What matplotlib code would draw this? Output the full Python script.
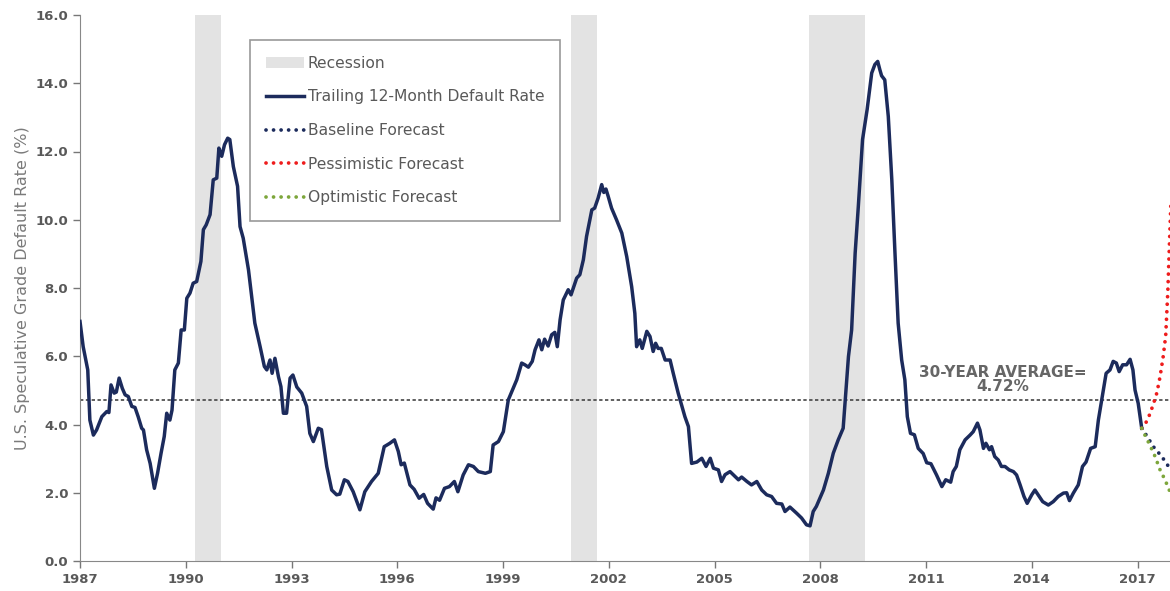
import matplotlib.pyplot as plt
import numpy as np

# trailing 12-month default rate (year, %)
years = [1987.00, 1987.09, 1987.22, 1987.28, 1987.38, 1987.47, 1987.62, 1987.76, 1987.82, 1987.88,
         1987.97, 1988.03, 1988.11, 1988.20, 1988.28, 1988.37, 1988.47, 1988.56, 1988.65, 1988.75,
         1988.80, 1988.89, 1988.99, 1989.11, 1989.20, 1989.30, 1989.39, 1989.46, 1989.55, 1989.61,
         1989.69, 1989.79, 1989.87, 1989.96, 1990.03, 1990.12, 1990.21, 1990.31, 1990.43, 1990.50,
         1990.58, 1990.69, 1990.78, 1990.88, 1990.94, 1991.02, 1991.10, 1991.19, 1991.25, 1991.35,
         1991.47, 1991.54, 1991.63, 1991.78, 1991.96, 1992.11, 1992.23, 1992.30, 1992.39, 1992.45,
         1992.53, 1992.63, 1992.70, 1992.77, 1992.86, 1992.96, 1993.04, 1993.15, 1993.29, 1993.43,
         1993.52, 1993.62, 1993.76, 1993.85, 1994.00, 1994.14, 1994.28, 1994.37, 1994.50, 1994.60,
         1994.75, 1994.94, 1995.08, 1995.27, 1995.46, 1995.63, 1995.79, 1995.92, 1996.03, 1996.11,
         1996.20, 1996.36, 1996.48, 1996.62, 1996.75, 1996.86, 1997.02, 1997.10, 1997.20, 1997.34,
         1997.48, 1997.62, 1997.72, 1997.87, 1998.02, 1998.16, 1998.30, 1998.50, 1998.64, 1998.72,
         1998.87, 1999.01, 1999.15, 1999.29, 1999.39, 1999.53, 1999.62, 1999.72, 1999.83, 1999.91,
         2000.02, 2000.10, 2000.18, 2000.28, 2000.38, 2000.47, 2000.54, 2000.62, 2000.71, 2000.85,
         2000.93, 2001.09, 2001.18, 2001.28, 2001.37, 2001.52, 2001.60, 2001.70, 2001.80, 2001.86,
         2001.92, 2001.98, 2002.08, 2002.22, 2002.37, 2002.51, 2002.65, 2002.74, 2002.79, 2002.88,
         2002.95, 2003.08, 2003.17, 2003.26, 2003.33, 2003.40, 2003.49, 2003.60, 2003.74, 2003.83,
         2003.97, 2004.16, 2004.26, 2004.35, 2004.50, 2004.64, 2004.76, 2004.88, 2004.97, 2005.11,
         2005.20, 2005.30, 2005.44, 2005.58, 2005.68, 2005.77, 2005.92, 2006.05, 2006.20, 2006.34,
         2006.48, 2006.62, 2006.76, 2006.91, 2007.00, 2007.14, 2007.33, 2007.47, 2007.61, 2007.71,
         2007.80, 2007.89, 2008.09, 2008.23, 2008.37, 2008.51, 2008.65, 2008.80, 2008.89, 2008.99,
         2009.08, 2009.20, 2009.33, 2009.46, 2009.55, 2009.63, 2009.69, 2009.74, 2009.83, 2009.93,
         2010.03, 2010.12, 2010.21, 2010.31, 2010.40, 2010.47, 2010.56, 2010.67, 2010.78, 2010.92,
         2011.02, 2011.14, 2011.30, 2011.45, 2011.56, 2011.70, 2011.77, 2011.86, 2011.96, 2012.11,
         2012.25, 2012.34, 2012.46, 2012.53, 2012.63, 2012.70, 2012.80, 2012.86, 2012.95, 2013.05,
         2013.14, 2013.24, 2013.36, 2013.48, 2013.57, 2013.67, 2013.78, 2013.87, 2014.00, 2014.09,
         2014.18, 2014.31, 2014.47, 2014.61, 2014.75, 2014.90, 2014.99, 2015.07, 2015.18, 2015.32,
         2015.44, 2015.54, 2015.67, 2015.80, 2015.89, 2016.01, 2016.11, 2016.22, 2016.31, 2016.40,
         2016.48, 2016.58, 2016.69, 2016.79, 2016.87, 2016.93, 2017.02, 2017.12]
rate = [7.02, 6.28, 5.60, 4.13, 3.69, 3.84, 4.23, 4.38, 4.35, 5.16,
        4.92, 4.95, 5.36, 5.06, 4.87, 4.82, 4.53, 4.50, 4.23, 3.89,
        3.84, 3.26, 2.86, 2.13, 2.57, 3.16, 3.65, 4.33, 4.13, 4.42,
        5.60, 5.80, 6.77, 6.77, 7.70, 7.85, 8.14, 8.19, 8.78, 9.71,
        9.85, 10.15, 11.17, 11.22, 12.10, 11.86, 12.20, 12.39, 12.35, 11.56,
        10.98, 9.80, 9.46, 8.53, 6.97, 6.28, 5.70, 5.60, 5.89, 5.50,
        5.94, 5.40, 5.11, 4.33, 4.33, 5.36, 5.45, 5.10, 4.92, 4.53,
        3.74, 3.50, 3.89, 3.85, 2.77, 2.08, 1.94, 1.96, 2.38, 2.33,
        2.03, 1.50, 2.03, 2.33, 2.57, 3.35, 3.45, 3.55, 3.21, 2.82,
        2.87, 2.23, 2.10, 1.84, 1.95, 1.69, 1.52, 1.85, 1.78, 2.13,
        2.18, 2.33, 2.03, 2.52, 2.82, 2.77, 2.62, 2.57, 2.62, 3.40,
        3.50, 3.79, 4.72, 5.06, 5.31, 5.80, 5.75, 5.68, 5.85, 6.19,
        6.48, 6.19, 6.50, 6.30, 6.63, 6.70, 6.28, 7.07, 7.65, 7.95,
        7.80, 8.29, 8.39, 8.83, 9.51, 10.29, 10.34, 10.64, 11.03, 10.80,
        10.90, 10.70, 10.34, 10.00, 9.61, 8.92, 8.04, 7.26, 6.28, 6.48,
        6.23, 6.73, 6.58, 6.14, 6.38, 6.23, 6.23, 5.89, 5.89, 5.50,
        4.92, 4.23, 3.94, 2.86, 2.90, 3.01, 2.77, 3.01, 2.72, 2.67,
        2.33, 2.53, 2.62, 2.48, 2.38, 2.46, 2.33, 2.23, 2.33, 2.08,
        1.94, 1.89, 1.69, 1.67, 1.45, 1.58, 1.40, 1.26, 1.06, 1.03,
        1.45, 1.60, 2.08, 2.57, 3.16, 3.55, 3.89, 5.99, 6.77, 9.02,
        10.39, 12.35, 13.23, 14.30, 14.55, 14.64, 14.40, 14.22, 14.10, 13.03,
        11.17, 9.02, 6.97, 5.89, 5.31, 4.23, 3.74, 3.70, 3.30, 3.15,
        2.88, 2.85, 2.52, 2.18, 2.38, 2.31, 2.62, 2.77, 3.26, 3.55,
        3.69, 3.79, 4.04, 3.84, 3.30, 3.45, 3.26, 3.35, 3.06, 2.96,
        2.77, 2.77, 2.67, 2.62, 2.52, 2.23, 1.89, 1.69, 1.94, 2.08,
        1.94, 1.74, 1.64, 1.74, 1.89, 1.99, 2.00, 1.77, 1.99, 2.23,
        2.77, 2.90, 3.30, 3.35, 4.13, 4.87, 5.50, 5.60, 5.85, 5.80,
        5.55, 5.75, 5.75, 5.91, 5.60, 5.01, 4.62, 3.89]

# forecasts
base_years = [2017.12, 2017.26, 2017.45, 2017.69, 2017.88, 2018.0]
base_rate = [3.89, 3.67, 3.35, 3.06, 2.77, 2.6]
pess_years = [2017.12, 2017.26, 2017.36, 2017.45, 2017.55, 2017.64, 2017.73, 2017.80, 2017.86, 2017.92, 2018.0]
pess_rate = [3.89, 4.09, 4.33, 4.60, 4.93, 5.40, 6.00, 6.60, 7.90, 9.70, 12.0]
opt_years = [2017.12, 2017.21, 2017.35, 2017.50, 2017.64, 2017.78, 2017.90, 2018.0]
opt_rate = [3.89, 3.69, 3.40, 3.06, 2.67, 2.38, 2.08, 1.9]

rec_start = [1990.25, 2000.92, 2007.69]
rec_end = [1991.00, 2001.68, 2009.26]

avg_rate = 4.72
xticks = list(range(1987, 2018, 3))
yticks = np.arange(0, 16.1, 2)

navy = '#1c2b5c'
grey_txt = '#595959'
dots = (0, (0.01, 2.0))

fig = plt.figure(figsize=(11.7, 5.91), dpi=100)
ax = fig.add_axes([80 / 1170, 30 / 591, 1090 / 1170, 546 / 591])

for s, e in zip(rec_start, rec_end):
    ax.axvspan(s, e, color='#e3e3e3', lw=0, zorder=0)
ax.axvspan(0, 0, color='#e3e3e3', lw=0, label='Recession')

ax.axhline(avg_rate, color='#444444', lw=1.2, linestyle=(0, (2, 1.5)), zorder=1)

ax.plot(years, rate, color=navy, lw=2.5, label='Trailing 12-Month Default Rate', zorder=3)
ax.plot(base_years, base_rate, color=navy, lw=2.7, linestyle=dots, dash_capstyle='round',
        label='Baseline Forecast', zorder=3)
ax.plot(pess_years, pess_rate, color='#ee1c1c', lw=2.7, linestyle=dots, dash_capstyle='round',
        label='Pessimistic Forecast', zorder=3)
ax.plot(opt_years, opt_rate, color='#7da63b', lw=2.7, linestyle=dots, dash_capstyle='round',
        label='Optimistic Forecast', zorder=3)

ax.text(2013.18, 5.32, '30-YEAR AVERAGE=\n4.72%', ha='center', va='center',
        fontsize=11, fontweight='bold', color='#666666', linespacing=0.95)

ax.set_xlim(1987, 1987 + 1090 / 35.25)
ax.set_ylim(0, 16)
ax.set_xticks(xticks)
ax.set_xticklabels([str(y) for y in xticks])
ax.set_yticks(yticks)
ax.set_yticklabels(['%.1f' % v for v in yticks])
ax.tick_params(axis='both', colors='#777777', labelcolor=grey_txt, labelsize=9.5, length=5, width=1)
for lab in ax.get_xticklabels() + ax.get_yticklabels():
    lab.set_fontweight('bold')
ax.spines['top'].set_visible(False)
ax.spines['right'].set_visible(False)
ax.spines['left'].set_color('#888888')
ax.spines['bottom'].set_color('#888888')
ax.set_ylabel('U.S. Speculative Grade Default Rate (%)', fontsize=11.5, color='#7a7a7a', labelpad=4)

leg = ax.legend(loc='upper left', bbox_to_anchor=(0.156, 0.954), borderaxespad=0,
                fontsize=11.2, handlelength=2.5, handletextpad=0.2, labelspacing=1.2,
                borderpad=1.0, fancybox=False, framealpha=1, edgecolor='#999999')
leg.get_frame().set_linewidth(1.2)
for t in leg.get_texts():
    t.set_color(grey_txt)

plt.savefig('out.png', dpi=100)
